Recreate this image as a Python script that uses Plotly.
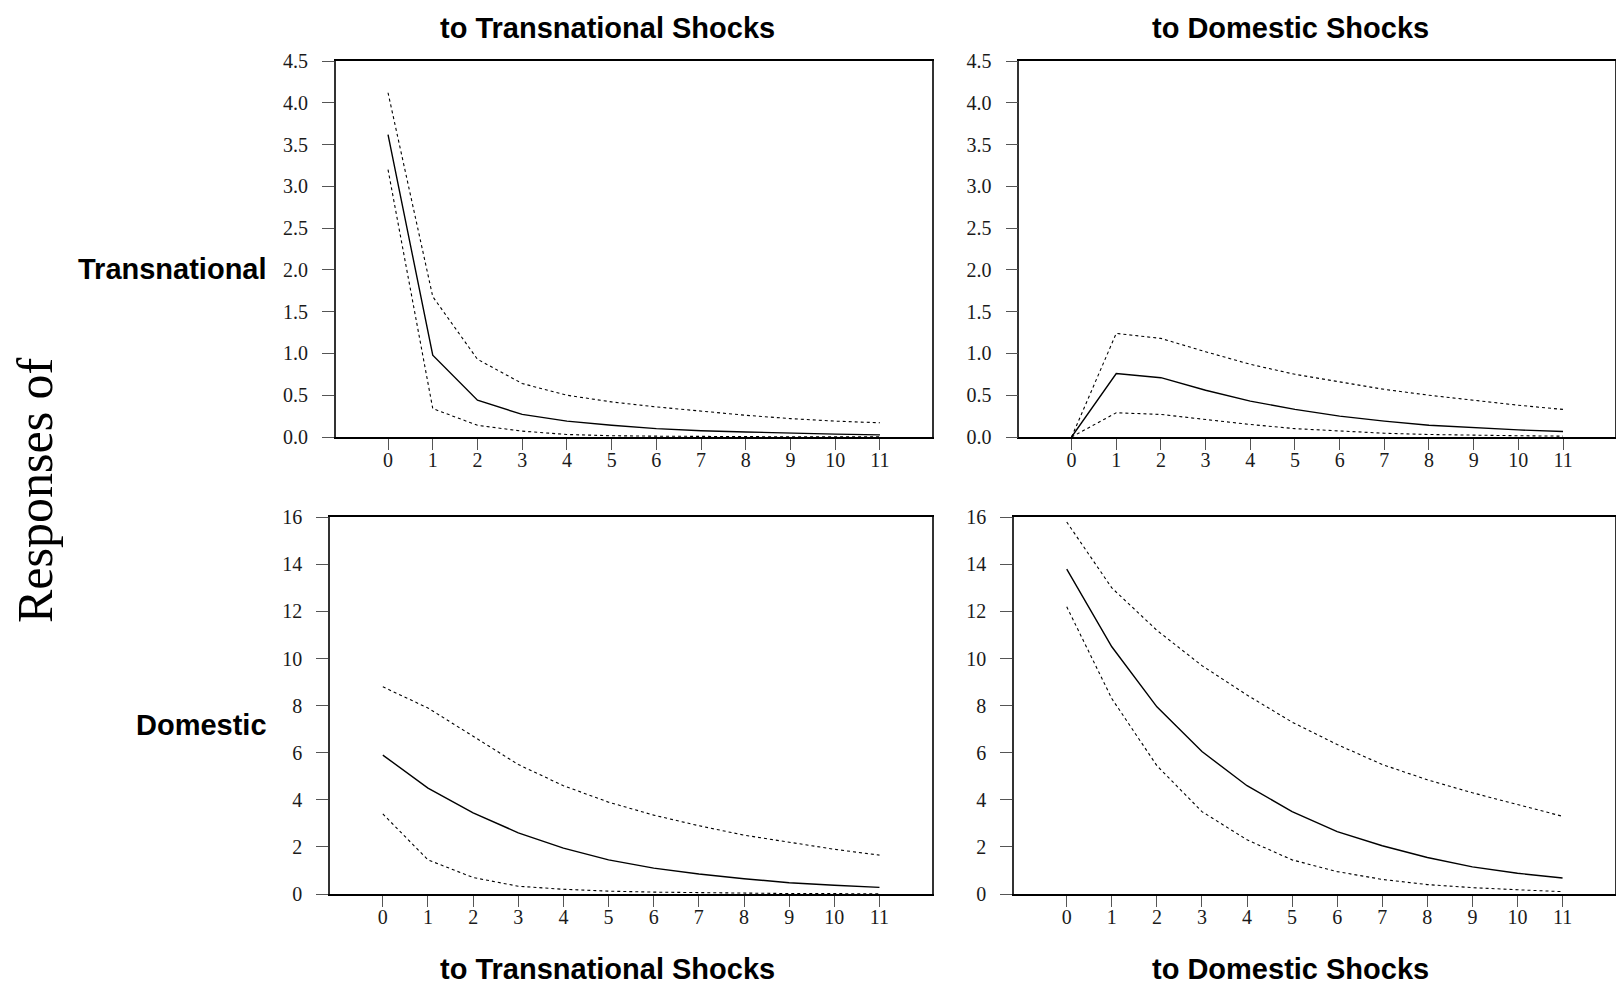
import plotly.graph_objects as go

horizon = list(range(12))
x_ticks = list(range(12))

# Responses of Transnational to Transnational shocks
tt_mean = [3.62, 0.98, 0.44, 0.27, 0.19, 0.14, 0.10, 0.075, 0.06, 0.045, 0.035, 0.025]
tt_upper = [4.12, 1.68, 0.93, 0.64, 0.50, 0.42, 0.36, 0.31, 0.26, 0.22, 0.19, 0.17]
tt_lower = [3.20, 0.34, 0.14, 0.07, 0.03, 0.015, 0.01, 0.005, 0.003, 0.002, 0.001, 0.001]

# Responses of Transnational to Domestic shocks
td_mean = [0.0, 0.76, 0.71, 0.56, 0.43, 0.33, 0.25, 0.19, 0.14, 0.11, 0.085, 0.065]
td_upper = [0.0, 1.24, 1.18, 1.02, 0.87, 0.75, 0.66, 0.57, 0.50, 0.44, 0.38, 0.33]
td_lower = [0.0, 0.29, 0.27, 0.21, 0.15, 0.10, 0.07, 0.045, 0.03, 0.02, 0.015, 0.01]

# Responses of Domestic to Transnational shocks
dt_mean = [5.9, 4.5, 3.45, 2.6, 1.95, 1.45, 1.1, 0.85, 0.65, 0.48, 0.37, 0.28]
dt_upper = [8.8, 7.9, 6.7, 5.5, 4.6, 3.9, 3.35, 2.9, 2.5, 2.2, 1.9, 1.65]
dt_lower = [3.4, 1.45, 0.7, 0.33, 0.2, 0.12, 0.08, 0.05, 0.03, 0.02, 0.015, 0.01]

# Responses of Domestic to Domestic shocks
dd_mean = [13.8, 10.5, 7.95, 6.05, 4.6, 3.5, 2.65, 2.05, 1.55, 1.15, 0.88, 0.68]
dd_upper = [15.8, 13.0, 11.2, 9.7, 8.45, 7.3, 6.35, 5.5, 4.85, 4.3, 3.8, 3.3]
dd_lower = [12.2, 8.3, 5.45, 3.5, 2.3, 1.45, 0.95, 0.62, 0.4, 0.27, 0.18, 0.1]

top_ticks = [0.0, 0.5, 1.0, 1.5, 2.0, 2.5, 3.0, 3.5, 4.0, 4.5]
bottom_ticks = [0, 2, 4, 6, 8, 10, 12, 14, 16]

col_titles = ["to Transnational Shocks", "to Domestic Shocks"]
row_titles = ["Transnational", "Domestic"]
side_title = "Responses of"

W, H = 1616, 984

panels = [
    # (axis suffix, mean, upper, lower, x px range, y px range (top,bottom))
    ("", tt_mean, tt_upper, tt_lower, (335.7, 932.3), (61, 437)),
    ("2", td_mean, td_upper, td_lower, (1019.3, 1615.3), (61, 437)),
    ("3", dt_mean, dt_upper, dt_lower, (330, 932.3), (517.3, 894)),
    ("4", dd_mean, dd_upper, dd_lower, (1014, 1615.3), (517.3, 894)),
]

fig = go.Figure()
layout = {}
tick_font = dict(family="Liberation Serif", size=20, color="#1a1a1a")

for i, (suf, m, u, l, xpx, ypx) in enumerate(panels):
    xa = "x" + suf
    ya = "y" + suf
    for series, dash, width in ((u, "dot", 1.1), (l, "dot", 1.1), (m, "solid", 1.4)):
        fig.add_trace(go.Scatter(x=horizon, y=series, xaxis=xa, yaxis=ya,
                                 mode="lines", line=dict(color="black", dash=dash, width=width),
                                 showlegend=False, hoverinfo="skip"))
    top = i < 2
    layout["xaxis" + suf] = dict(
        domain=[xpx[0] / W, xpx[1] / W], anchor=ya, range=[-1.17, 12.17],
        tickvals=x_ticks, ticks="outside", ticklen=11, tickcolor="#555", tickwidth=1.3,
        ticklabelstandoff=-7, automargin=False,
        showline=True, linecolor="black", linewidth=1.5, mirror=True,
        showgrid=False, zeroline=False, tickfont=tick_font, fixedrange=True,
    )
    layout["yaxis" + suf] = dict(
        domain=[1 - ypx[1] / H, 1 - ypx[0] / H], anchor=xa,
        range=[0, 4.5] if top else [0, 16],
        tickvals=top_ticks if top else bottom_ticks,
        tickformat=".1f" if top else "d",
        ticks="outside", ticklen=12, tickcolor="#555", tickwidth=1.3,
        ticklabelstandoff=10, automargin=False,
        showline=True, linecolor="#333", linewidth=1.5, mirror=True,
        showgrid=False, zeroline=False, tickfont=tick_font, fixedrange=True,
    )

title_font = dict(family="Liberation Sans", size=29, color="black")
annotations = []
for cx, t in zip((607, 1290), col_titles):
    for cy in (27.5, 969):
        annotations.append(dict(text="<b>" + t + "</b>", x=cx / W, y=1 - cy / H,
                                xref="paper", yref="paper", showarrow=False,
                                xanchor="center", yanchor="middle", font=title_font))
for cy, t in zip((269, 725), row_titles):
    annotations.append(dict(text="<b>" + t + "</b>", x=269 / W, y=1 - cy / H,
                            xref="paper", yref="paper", showarrow=False,
                            xanchor="right", yanchor="middle", font=title_font))
annotations.append(dict(text=side_title, x=35 / W, y=1 - 490 / H, xref="paper", yref="paper",
                        showarrow=False, textangle=-90, xanchor="center", yanchor="middle",
                        font=dict(family="Liberation Serif", size=50, color="black")))

fig.update_layout(
    width=W, height=H, autosize=False,
    margin=dict(l=0, r=0, t=0, b=0, pad=0, autoexpand=False),
    paper_bgcolor="white", plot_bgcolor="white",
    annotations=annotations, showlegend=False,
    **layout,
)

fig.write_html(
    "out.html",
    config={"displayModeBar": False},
    post_script="document.body.style.margin='0';document.body.style.padding='0';"
                "document.body.style.overflow='hidden';",
)
